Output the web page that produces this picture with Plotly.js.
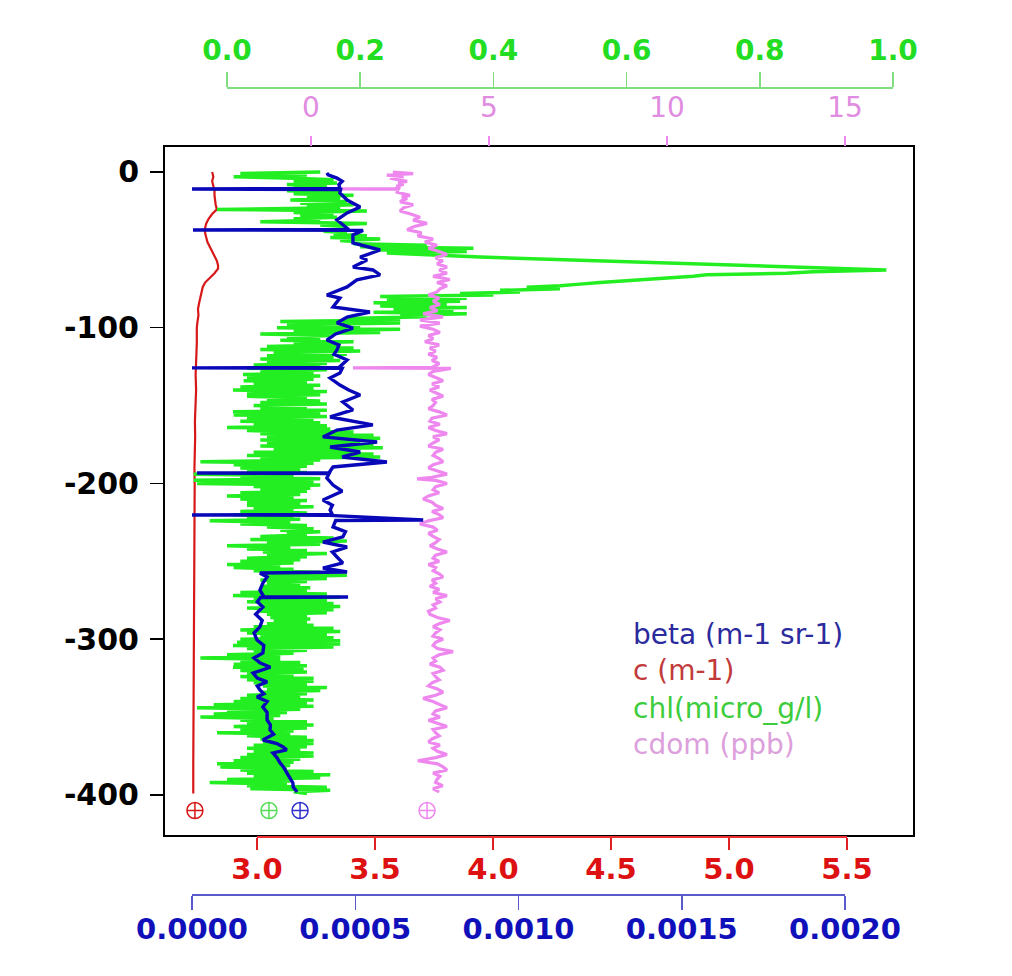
<!DOCTYPE html>
<html>
<head>
<meta charset="utf-8">
<script src="https://cdn.plot.ly/plotly-3.0.1.min.js"></script>
<style>html,body{margin:0;padding:0;background:#fff;}#chart{width:1012px;height:976px;}</style>
</head>
<body>
<div id="chart"></div>
<script>
// ---------- DATA ----------
const seriesNames = ["beta (m-1 sr-1)", "c (m-1)", "chl(micro_g/l)", "cdom (ppb)"];

const depthTicks = [0, -100, -200, -300, -400];
const depthTickLabels = ["0", "-100", "-200", "-300", "-400"];
const chlTicks = [0, 0.2, 0.4, 0.6, 0.8, 1.0];
const chlTickLabels = ["0.0", "0.2", "0.4", "0.6", "0.8", "1.0"];
const cdomTicks = [0, 5, 10, 15];
const cdomTickLabels = ["0", "5", "10", "15"];
const cTicks = [3.0, 3.5, 4.0, 4.5, 5.0, 5.5];
const cTickLabels = ["3.0", "3.5", "4.0", "4.5", "5.0", "5.5"];
const betaTicks = [0, 0.0005, 0.0010, 0.0015, 0.0020];
const betaTickLabels = ["0.0000", "0.0005", "0.0010", "0.0015", "0.0020"];

// c (m-1) profile
const cDepth = [0,-3,-6,-9,-12,-15,-18,-21,-24,-27,-30,-33,-36,-39,-42,-45,-48,-51,-54,-57,-60,-62,-65,-68,-71,-74,-77,-80,-84,-88,-92,-96,-100,-110,-120,-130,-140,-150,-160,-170,-180,-190,-200,-220,-240,-260,-280,-300,-320,-340,-360,-380,-399];
const cValues = [2.81,2.815,2.81,2.815,2.82,2.82,2.822,2.825,2.83,2.81,2.795,2.785,2.78,2.78,2.785,2.79,2.80,2.81,2.82,2.83,2.835,2.835,2.82,2.80,2.78,2.77,2.765,2.76,2.755,2.75,2.752,2.748,2.745,2.745,2.742,2.74,2.742,2.738,2.737,2.738,2.736,2.735,2.736,2.735,2.734,2.733,2.733,2.732,2.732,2.731,2.731,2.73,2.73];

// beta (m-1 sr-1) profile
const betaDepth = [-0.6,-1.9,-3.9,-6,-8,-10.5,-10.9,-11.3,-13.5,-18,-22.5,-26.3,-30.8,-34,-36.9,-37.2,-37.5,-40.4,-45.6,-50.1,-54.6,-56.5,-61,-62.9,-66.1,-69.3,-73.8,-79,-80.9,-86.7,-89.9,-93.1,-96.9,-100.2,-104,-107.9,-111,-114.3,-117,-120.7,-125.5,-125.8,-126.1,-129.1,-132.3,-136.8,-140,-143.2,-147.7,-152.8,-157.3,-162.4,-165.7,-170.1,-173.4,-176.6,-179.8,-183,-186.2,-189.4,-193,-193.3,-193.6,-196.5,-201,-205,-210.6,-214,-217,-220,-220.2,-220.5,-223.4,-223.8,-227.9,-231,-234.3,-237.6,-240.8,-244,-247.2,-251,-254.3,-256.8,-257.5,-260,-263.9,-268.4,-272.7,-272.9,-273.2,-276,-279.3,-284,-288,-292.1,-296,-300.5,-304,-308.8,-312,-315.2,-318,-321.7,-325,-327.4,-330,-332.6,-335,-337.1,-340,-343.5,-347,-351.8,-355,-358.3,-361,-364.7,-367,-369.2,-371,-373,-376,-379.5,-382,-385.9,-389,-392.3,-395,-398.1];
const betaValues = [4.13e-4,4.17e-4,4.44e-4,4.6e-4,4.5e-4,4.53e-4,0,4.55e-4,4.53e-4,4.75e-4,5.15e-4,4.75e-4,4.44e-4,4.62e-4,4.8e-4,0.03e-4,5.24e-4,4.93e-4,4.93e-4,5.76e-4,5.15e-4,5.36e-4,4.93e-4,5.54e-4,5.76e-4,5.05e-4,4.75e-4,4.13e-4,4.53e-4,4.32e-4,5.45e-4,4.75e-4,4.44e-4,4.93e-4,4.4e-4,4.13e-4,4.5e-4,4.44e-4,4.35e-4,4.75e-4,4.5e-4,0,4.6e-4,4.53e-4,4.23e-4,4.53e-4,4.8e-4,5.15e-4,4.62e-4,4.93e-4,4.23e-4,5.54e-4,4.44e-4,4.01e-4,5.67e-4,4.23e-4,5.15e-4,4.6e-4,5.97e-4,4.32e-4,4.2e-4,0.15e-4,4.2e-4,4.13e-4,4.32e-4,4.6e-4,4.01e-4,4.3e-4,4.23e-4,4.3e-4,0,4.2e-4,7.08e-4,4.4e-4,4.32e-4,4.7e-4,4.62e-4,4.01e-4,4.75e-4,4.3e-4,4.44e-4,4.62e-4,4.01e-4,4.75e-4,2.08e-4,2.3e-4,2.17e-4,2.08e-4,2.2e-4,4.78e-4,2.1e-4,2.0e-4,2.17e-4,1.95e-4,2.15e-4,2.08e-4,1.9e-4,1.99e-4,2.2e-4,2.17e-4,1.9e-4,2.08e-4,2.4e-4,1.87e-4,2.0e-4,2.3e-4,2.0e-4,2.08e-4,2.2e-4,1.99e-4,2.3e-4,2.17e-4,2.3e-4,2.3e-4,2.4e-4,2.39e-4,2.5e-4,2.17e-4,2.6e-4,2.79e-4,2.9e-4,2.48e-4,2.6e-4,2.7e-4,2.8e-4,2.91e-4,3.0e-4,3.09e-4,3.1e-4,3.22e-4];

// chl (micro_g/l) profile
const chlDepth = [0,-1,-2,-3,-4,-5,-6,-7,-8,-9,-10,-11,-12,-13,-14,-15,-16,-17,-18,-19,-20,-21,-22,-23,-24,-25,-26,-27,-28,-29,-30,-31,-32,-33,-34,-35,-36,-37,-38,-39,-40,-41,-42,-43,-44,-45,-46,-47,-48,-49,-50,-51,-52,-53,-54.6,-62.9,
-64,-65,-66,-67,-68,-69,-70,-71,-72,-73,-74,-75,-76,-77,-78,-79,-80,-81,-82,-83,-84,-85,-86,-87,-88,-89,-90,-91,-92,-93,-94,-95,-96,-97,-98,-99,-100,-101,-102,-103,
-104,-105,-106,-107,-108,-109,-110,-111,-112,-113,-114,-115,-116,-117,-118,-119,-120,-121,-122,-123,-124,-125,-126,-127,-128,-129,-130,-131,-132,-133,-134,-135,-136,-137,-138,-139,-140,-141,-142,-143,
-144,-145,-146,-147,-148,-149,-150,-151,-152,-153,-154,-155,-156,-157,-158,-159,-160,-161,-162,-163,-164,-165,-166,-167,-168,-169,-170,-171,-172,-173,-174,-175,-176,-177,-178,-179,-180,-181,-182,-183,
-184,-185,-186,-187,-188,-189,-190,-191,-192,-193,-194,-195,-196,-197,-198,-199,-200,-201,-202,-203,-204,-205,-206,-207,-208,-209,-210,-211,-212,-213,-214,-215,-216,-217,-218,-219,-220,-221,-222,-223,
-224,-225,-226,-227,-228,-229,-230,-231,-232,-233,-234,-235,-236,-237,-238,-239,-240,-241,-242,-243,-244,-245,-246,-247,-248,-249,-250,-251,-252,-253,-254,-255,-256,-257,-258,-259,-260,-261,-262,-263,
-264,-265,-266,-267,-268,-269,-270,-271,-272,-273,-274,-275,-276,-277,-278,-279,-280,-281,-282,-283,-284,-285,-286,-287,-288,-289,-290,-291,-292,-293,-294,-295,-296,-297,-298,-299,-300,-301,-302,-303,
-304,-305,-306,-307,-308,-309,-310,-311,-312,-313,-314,-315,-316,-317,-318,-319,-320,-321,-322,-323,-324,-325,-326,-327,-328,-329,-330,-331,-332,-333,-334,-335,-336,-337,-338,-339,-340,-341,-342,-343,
-344,-345,-346,-347,-348,-349,-350,-351,-352,-353,-354,-355,-356,-357,-358,-359,-360,-361,-362,-363,-364,-365,-366,-367,-368,-369,-370,-371,-372,-373,-374,-375,-376,-377,-378,-379,-380,-381,-382,-383,
-384,-385,-386,-387,-388,-389,-390,-391,-392,-393,-394,-395,-396,-397,-398,-399];
const chlValues = [0.14,0.02,0.12,0.01,0.10,0.16,0.10,0.165,0.09,0.15,
0.10,0.14,0.09,0.17,0.10,0.19,0.12,0.17,0.095,0.18,
0.11,0.19,0.12,0.17,-0.015,0.21,0.10,0.16,0.11,0.165,
0.10,0.14,0.05,0.21,0.14,0.18,0.15,0.17,0.145,0.18,
0.16,0.21,0.155,0.23,0.17,0.20,0.19,0.30,0.20,0.37,
0.22,0.36,0.24,0.30,0.38,0.99,
0.88,0.84,0.72,0.70,0.66,0.63,0.60,0.56,0.53,0.50,
0.45,0.50,0.41,0.44,0.35,0.40,0.23,0.36,0.24,0.35,
0.22,0.33,0.23,0.36,0.25,0.34,0.22,0.36,0.26,0.30,
0.18,0.26,0.08,0.26,0.09,0.20,0.075,0.26,0.10,0.23,
0.05,0.155,0.09,0.14,0.08,0.19,0.10,0.17,0.06,0.19,
0.05,0.20,0.07,0.18,0.06,0.16,0.05,0.17,0.06,0.15,
0.04,0.14,0.03,0.15,0.05,0.13,0.024,0.14,0.03,0.13,
0.025,0.12,0.04,0.14,0.02,0.13,0.009,0.15,0.03,0.14,
0.03,0.12,0.06,0.14,0.05,0.15,0.04,0.12,0.05,0.15,
0.009,0.14,0.01,0.15,0.03,0.13,0.02,0.14,0.04,0.15,
0.0,0.155,0.03,0.19,0.05,0.22,0.06,0.23,0.05,0.20,
0.06,0.22,0.05,0.234,0.07,0.20,0.04,0.22,0.03,0.23,
0.05,0.14,-0.04,0.13,0.01,0.12,0.02,0.11,0.03,0.12,
-0.05,0.10,0.02,0.14,-0.05,0.13,-0.045,0.14,0.04,0.125,
0.05,0.12,0.02,0.11,0.0,0.10,0.02,0.12,0.03,0.11,
0.03,0.13,0.04,0.10,0.02,0.12,0.01,0.10,0.03,0.11,
-0.026,0.095,0.02,0.12,0.06,0.13,0.08,0.14,0.09,0.12,
0.05,0.16,0.035,0.18,0.06,0.14,0.0,0.095,0.03,0.12,
0.054,0.15,0.06,0.12,0.03,0.11,0.02,0.10,0.0,0.08,
0.01,0.10,0.04,0.14,0.05,0.18,0.06,0.15,0.05,0.12,
0.06,0.11,0.054,0.125,0.05,0.12,0.02,0.15,0.009,0.17,
0.04,0.15,0.03,0.16,0.05,0.17,0.03,0.16,0.05,0.15,
0.06,0.12,0.065,0.125,0.07,0.12,0.06,0.13,0.04,0.16,
0.02,0.17,0.03,0.15,0.05,0.16,0.02,0.17,0.015,0.17,
0.009,0.16,0.03,0.12,0.04,0.10,0.0,0.08,-0.04,0.08,
0.02,0.11,0.01,0.12,0.009,0.115,0.02,0.12,0.03,0.10,
0.02,0.13,0.03,0.13,0.04,0.12,0.054,0.15,0.06,0.14,
0.05,0.12,0.03,0.11,0.02,0.13,0.01,0.12,-0.02,0.13,
-0.045,0.11,0.0,0.09,-0.02,0.08,-0.04,0.07,0.02,0.12,
0.03,0.13,0.01,0.12,0.02,0.10,-0.015,0.095,0.03,0.12,
0.05,0.13,0.054,0.13,0.04,0.12,0.03,0.11,0.04,0.13,
0.03,0.13,0.02,0.11,0.01,0.10,-0.015,0.095,-0.01,0.09,
0.02,0.13,0.03,0.155,0.04,0.14,0.0,0.095,-0.026,0.09,
0.03,0.15,0.035,0.155,0.10,0.12];

// cdom (ppb) profile
const cdomDepth = [0,-1,-2,-3,-4,-5,-6,-7,-8,-9,-10.6,-10.9,-11.2,-13,-15,-16,-17,-19,-21,-23,-25,-27,-29,-31,-33,-35,-37,-39,-41,-43,-45,-47,-49,-51,-53,-55,-57,-59,-61,-63,-65,-67,-69,-71,-73,-75,-77,-79,-81,-83,-85,-87,-89,-91,-93,-95,-97,-99,-101,-103,-105,-107,-109,-111,-113,-115,-117,-119,-121,-123,-125.5,-125.8,-126.1,
-128,-130,-132,-134,-136,-138,-140,-142,-144,-146,-148,-150,-152,-154,-156,-158,-160,-162,-164,-166,-168,-170,-172,-174,-176,-178,-180,-182,-184,-186,-188,-190,-192,-194,-196,-197,-198,
-200,-202,-204,-206,-208,-210,-212,-214,-216,-218,-220,-222,-224,-226,-228,-230,-232,-234,-236,-238,-240,-242,-244,-246,-248,-250,-252,-254,-256,-258,-260,-262,-264,-266,-268,-270,-272,-274,-276,-278,
-280,-282,-284,-286,-288,-290,-292,-294,-296,-298,-300,-302,-304,-306,-308,-310,-312,-314,-316,-318,-320,-322,-324,-326,-328,-330,-332,-334,-336,-338,-340,-342,-344,-346,-348,-350,-352,-354,-356,-358,
-360,-362,-364,-366,-368,-370,-372,-374,-376,-378,-380,-382,-384,-386,-388,-390,-392,-394,-396,-398];
const cdomValues = [2.3,2.87,2.13,2.6,2.22,2.5,2.70,2.45,2.6,2.4,2.5,0.8,2.45,2.42,2.78,2.55,2.7,2.50,2.87,2.6,2.50,2.8,3.06,2.87,3.26,2.9,2.70,3.1,3.0,3.43,3.2,3.54,3.3,3.6,3.82,3.5,3.7,3.54,3.82,3.6,3.82,3.43,3.9,3.54,3.82,3.62,3.54,3.3,3.6,3.43,3.62,3.34,3.55,3.15,3.71,3.06,3.62,3.06,3.43,3.62,3.3,3.43,3.2,3.6,3.34,3.5,3.3,3.54,3.4,3.6,3.4,1.18,3.93,
3.43,3.3,3.5,3.71,3.4,3.6,3.34,3.55,3.71,3.4,3.5,3.43,3.3,3.6,3.82,3.4,3.34,3.62,3.3,3.5,3.82,3.43,3.6,3.43,3.3,3.71,3.5,3.43,3.6,3.71,3.43,3.3,3.55,3.82,3.4,2.98,3.5,
3.82,3.5,3.43,3.6,3.3,3.15,3.4,3.5,3.71,3.4,3.6,3.71,3.3,3.06,3.43,3.55,3.3,3.43,3.6,3.5,3.34,3.55,3.82,3.5,3.43,3.6,3.3,3.5,3.43,3.6,3.71,3.4,3.5,3.34,3.6,3.43,3.82,3.5,3.62,3.43,
3.5,3.3,3.34,3.55,3.9,3.6,3.43,3.62,3.5,3.43,3.71,3.5,3.43,3.55,3.99,3.6,3.43,3.5,3.34,3.62,3.71,3.43,3.5,3.6,3.4,3.3,3.55,3.71,3.5,3.15,3.43,3.62,3.82,3.5,3.43,3.62,3.3,3.55,3.82,3.43,
3.5,3.6,3.4,3.3,3.62,3.43,3.55,3.82,3.5,3.0,3.55,3.71,3.82,3.43,3.62,3.54,3.5,3.7,3.43,3.6];

// end-of-profile markers (beta, c, chl, cdom)
const markerDepth = -410;
const markerValues = [3.31e-4, 2.737, 0.063, 3.26];

// ---------- STYLE ----------
const colBeta = "#0808b8", colC = "#d81818", colChl = "#22ee22", colCdom = "#ee88ee";
const legendColors = ["#2b2b9e", "#c23a3a", "#3ccc3c", "#dca0dc"];
const tickFontBold = (size, color) => ({family: "DejaVu Sans", size: size, color: color, weight: "bold"});

const traces = [
  {x: cValues, y: cDepth, xaxis: "x", yaxis: "y", type: "scatter", mode: "lines", line: {color: colC, width: 2.2}, hoverinfo: "skip"},
  {x: [markerValues[1]], y: [markerDepth], xaxis: "x", yaxis: "y", type: "scatter", mode: "markers", marker: {symbol: "circle-cross-open", size: 16, color: colC, line: {width: 1.5}}, hoverinfo: "skip"},
  {x: chlValues, y: chlDepth, xaxis: "x2", yaxis: "y", type: "scatter", mode: "lines", line: {color: colChl, width: 3.5}, hoverinfo: "skip"},
  {x: [markerValues[2]], y: [markerDepth], xaxis: "x2", yaxis: "y", type: "scatter", mode: "markers", marker: {symbol: "circle-cross-open", size: 16, color: "#55dd55", line: {width: 1.5}}, hoverinfo: "skip"},
  {x: cdomValues, y: cdomDepth, xaxis: "x3", yaxis: "y", type: "scatter", mode: "lines", line: {color: colCdom, width: 3.2}, hoverinfo: "skip"},
  {x: [markerValues[3]], y: [markerDepth], xaxis: "x3", yaxis: "y", type: "scatter", mode: "markers", marker: {symbol: "circle-cross-open", size: 16, color: colCdom, line: {width: 1.5}}, hoverinfo: "skip"},
  {x: betaValues, y: betaDepth, xaxis: "x4", yaxis: "y", type: "scatter", mode: "lines", line: {color: colBeta, width: 3.4}, hoverinfo: "skip"},
  {x: [markerValues[0]], y: [markerDepth], xaxis: "x4", yaxis: "y", type: "scatter", mode: "markers", marker: {symbol: "circle-cross-open", size: 16, color: "#3333cc", line: {width: 1.5}}, hoverinfo: "skip"},
  // carriers for the stand-alone axes
  {x: [], y: [], xaxis: "x5", yaxis: "y", type: "scatter", mode: "lines", hoverinfo: "skip"},
  {x: [], y: [], xaxis: "x6", yaxis: "y", type: "scatter", mode: "lines", hoverinfo: "skip"},
  {x: [], y: [], xaxis: "x7", yaxis: "y", type: "scatter", mode: "lines", hoverinfo: "skip"}
];

const legendY = [0.3234, 0.2776, 0.2317, 0.1859];
const annotations = seriesNames.map((name, i) => ({
  text: name, xref: "paper", yref: "paper", x: 0.6230, y: legendY[i],
  xanchor: "left", yanchor: "middle", showarrow: false,
  font: {family: "DejaVu Sans", size: 28, color: legendColors[i]}
}));

const layout = {
  width: 1012, height: 976,
  margin: {l: 165, r: 99, t: 88, b: 81, pad: 0},
  paper_bgcolor: "#ffffff", plot_bgcolor: "rgba(0,0,0,0)",
  showlegend: false,
  annotations: annotations,
  yaxis: {
    domain: [0.07435, 0.92689], range: [-425.7, 16.05], anchor: "x",
    showline: true, mirror: true, linecolor: "#000000", linewidth: 2,
    ticks: "outside", ticklen: 13, tickwidth: 1.5, tickcolor: "#000000",
    tickvals: depthTicks, ticktext: depthTickLabels, tickfont: tickFontBold(30, "#000000"),
    showgrid: false, zeroline: false, ticklabelstandoff: 5
  },
  xaxis: {
    domain: [0, 1], range: [2.6102, 5.7797], anchor: "y",
    showline: true, mirror: true, linecolor: "#000000", linewidth: 2,
    ticks: "", showticklabels: false, showgrid: false, zeroline: false
  },
  xaxis2: {overlaying: "x", range: [-0.0931, 1.0300], visible: false, showgrid: false, zeroline: false},
  xaxis3: {
    overlaying: "x", anchor: "y", side: "top", range: [-4.101, 16.910],
    showline: false, ticks: "outside", ticklen: 10, tickwidth: 1.5, tickcolor: colCdom,
    tickvals: cdomTicks, ticktext: cdomTickLabels,
    tickfont: {family: "DejaVu Sans", size: 28, color: "#e08ce0"},
    showgrid: false, zeroline: false, ticklabelstandoff: 8
  },
  xaxis4: {overlaying: "x", range: [-0.0000827, 0.0022083], visible: false, showgrid: false, zeroline: false},
  xaxis5: {
    domain: [0.08289, 0.97326], anchor: "free", position: 1, side: "top", range: [0, 1],
    showline: true, linecolor: "#80dd80", linewidth: 2,
    ticks: "outside", ticklen: 15, tickwidth: 1.5, tickcolor: "#80dd80",
    tickvals: chlTicks, ticktext: chlTickLabels, tickfont: tickFontBold(28, "#22dd22"),
    showgrid: false, zeroline: false, ticklabelstandoff: 1
  },
  xaxis6: {
    domain: [0.12299, 0.91176], anchor: "free", position: 0.07187, side: "bottom", range: [3.0, 5.5],
    showline: true, linecolor: "#ee3030", linewidth: 2,
    ticks: "outside", ticklen: 12, tickwidth: 1.5, tickcolor: "#dd2020",
    tickvals: cTicks, ticktext: cTickLabels, tickfont: tickFontBold(29, "#dd1111"),
    showgrid: false, zeroline: false, ticklabelstandoff: -6
  },
  xaxis7: {
    domain: [0.03610, 0.90909], anchor: "free", position: 0, side: "bottom", range: [0, 0.0020],
    showline: true, linecolor: "#5a5acc", linewidth: 2,
    ticks: "outside", ticklen: 14, tickwidth: 1.5, tickcolor: "#5a5acc",
    tickvals: betaTicks, ticktext: betaTickLabels, tickfont: tickFontBold(29, "#1010bb"),
    showgrid: false, zeroline: false, ticklabelstandoff: -6
  }
};

Plotly.newPlot("chart", traces, layout, {staticPlot: true, displayModeBar: false});
</script>
</body>
</html>
